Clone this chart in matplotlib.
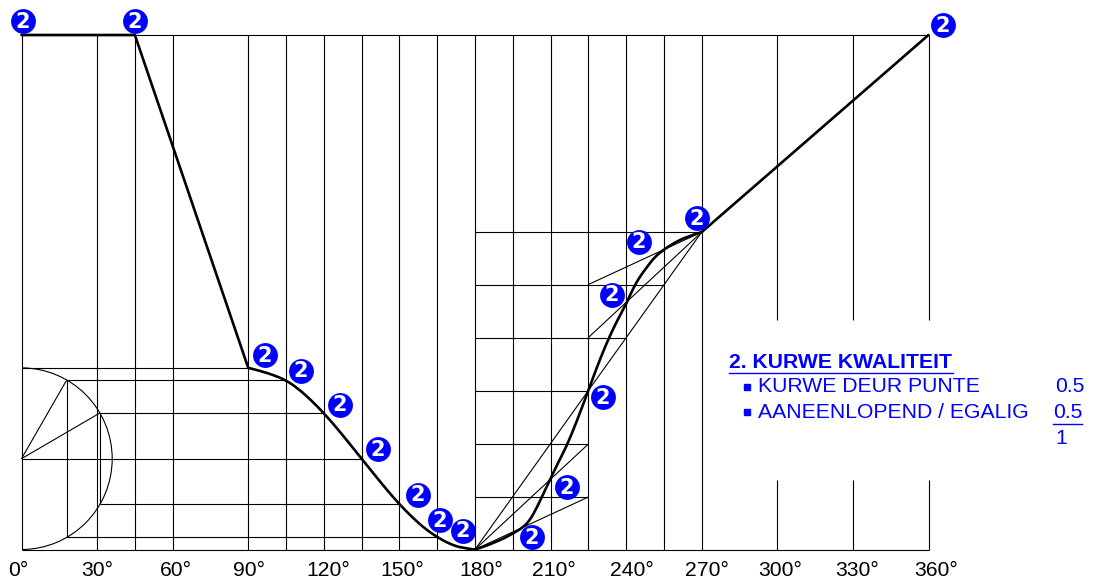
import matplotlib
matplotlib.use("Agg")
import matplotlib.pyplot as plt
from matplotlib.patches import Arc, PathPatch
from matplotlib.path import Path
from matplotlib.transforms import Affine2D

W, H = 1093, 580
BLUE = "#0000ff"

tick_deg = [0, 30, 60, 90, 120, 150, 180, 210, 240, 270, 300, 330, 360]
tick_labels = ["0°", "30°", "60°", "90°", "120°", "150°", "180°", "210°", "240°", "270°", "300°", "330°", "360°"]
label_shift_px = [-3, 0.5, 3.5, 1, 4.5, 3, 6, 3.5, 6, 5, 3, 4, 7.5]
full_grid = [0, 30, 45, 60, 90, 105, 120, 135, 150, 165, 180, 195, 210, 225, 240, 255, 270]
cut_grid = [300, 330, 360]
cut_low = 13.5
cut_high = 44.6

# harmonic drop, 90 to 180
drop_deg = [90, 95, 100, 105, 110, 115, 120, 125, 130, 135, 140, 145, 150, 155, 160, 165, 170, 175, 180]
drop_lift = [35.3, 34.7, 33.9, 32.9, 31.2, 29.0, 26.5, 23.7, 20.7, 17.65, 14.6, 11.6, 8.8, 6.3, 4.1, 2.4, 1.06, 0.27, 0]

# rise, 180 to 270
rise_deg = [180, 183.9, 187.3, 191.2, 195, 199.1, 201.8, 204.4, 207.1, 210, 213, 216.3, 220.3, 225,
            228.2, 232.2, 236.2, 240, 242.8, 245.4, 248.1, 251.4, 255, 258.7, 264, 270]
rise_lift = [0, 0.6, 1.3, 2.1, 3.1, 4.3, 5.7, 8.0, 10.8, 13.8, 16.9, 20, 24.8, 30.9,
             35.2, 40.1, 44.3, 47.7, 50.8, 53, 54.8, 56.9, 58.3, 59.5, 60.8, 61.7]

dwell_deg = [0, 45, 90]
dwell_lift = [100, 100, 35.3]
end_deg = [270, 360]
end_lift = [61.7, 100]

# harmonic construction: lift level, start and end of each projection line
harm_lift = [35.3, 32.9, 26.5, 17.65, 8.8, 2.4]
harm_start = [0, 17.9, 31, 0, 31, 17.9]
harm_end = [90, 105, 120, 135, 150, 165]

# rise construction
rise_levels = [10.2, 20.5, 30.9, 41.2, 51.5, 61.7]
rise_ends = [225, 225, 225, 240, 255, 270]

badge_deg = [0.6, 45.05, 365.8, 96.6, 110.9, 126.4, 141.5, 157.4, 166.1, 175.2,
             202.6, 216.5, 230.8, 234.4, 245.1, 268.1]
badge_lift = [102.7, 102.7, 101.9, 37.8, 34.7, 28.1, 19.5, 10.6, 5.7, 3.6,
              2.4, 12.1, 29.6, 49.5, 59.8, 64.4]

plt.rcParams["font.family"] = ["Liberation Sans", "DejaVu Sans"]

fig = plt.figure(figsize=(W / 100, H / 100), dpi=100)
ax = fig.add_axes([21.5 / W, 1 - 549.5 / H, 907 / W, 514.5 / H])
ax.set_xlim(0, 360)
ax.set_ylim(0, 100)
for side in ["top", "right", "left", "bottom"]:
    ax.spines[side].set_visible(False)
ax.set_yticks([])
ax.set_xticks(tick_deg)
ax.set_xticklabels(tick_labels, fontsize=15.2, color="black")
ax.tick_params(axis="x", length=0, pad=8)
for label, dx in zip(ax.get_xticklabels(), label_shift_px):
    label.set_transform(label.get_transform() + Affine2D().translate(dx, 0))

thin = dict(color="black", lw=0.8, solid_capstyle="butt", clip_on=False)
ax.plot([0, 360], [0, 0], **thin)
ax.plot([0, 360], [100, 100], **thin)
for d in full_grid:
    ax.plot([d, d], [0, 100], **thin)
for d in cut_grid:
    ax.plot([d, d], [0, cut_low], **thin)
    ax.plot([d, d], [cut_high, 100], **thin)

# half circle with its projections
ax.add_patch(Arc((0, 17.65), 2 * 36, 2 * 17.65, theta1=-90, theta2=90, color="black", lw=0.8))
for lift, start, end in zip(harm_lift, harm_start, harm_end):
    ax.plot([start, end], [lift, lift], **thin)
ax.plot([0, 17.9], [17.65, 32.9], **thin)
ax.plot([0, 31], [17.65, 26.5], **thin)
ax.plot([17.9, 17.9], [2.4, 32.9], **thin)
ax.plot([31, 31], [8.8, 26.5], **thin)

# rise construction
for level, end in zip(rise_levels, rise_ends):
    ax.plot([180, end], [level, level], **thin)
for level in rise_levels[:3]:
    ax.plot([180, 225], [0, level], **thin)
for level in rise_levels[2:5]:
    ax.plot([225, 270], [level, 61.7], **thin)

# cam curve: straight parts as lines, the two curved parts as bezier paths
def smooth_path(xs, ys):
    pts = list(zip(xs, ys))
    verts = [pts[0]]
    codes = [Path.MOVETO]
    for i in range(1, len(pts) - 1):
        end = pts[-1] if i == len(pts) - 2 else ((pts[i][0] + pts[i + 1][0]) / 2, (pts[i][1] + pts[i + 1][1]) / 2)
        verts += [pts[i], end]
        codes += [Path.CURVE3, Path.CURVE3]
    return Path(verts, codes)

thick = dict(color="black", lw=1.9, solid_joinstyle="round", solid_capstyle="round", clip_on=False)
ax.plot(dwell_deg, dwell_lift, **thick)
ax.plot(end_deg, end_lift, **thick)
for xs, ys in [(drop_deg, drop_lift), (rise_deg, rise_lift)]:
    ax.add_patch(PathPatch(smooth_path(xs, ys), fc="none", ec="black", lw=1.9, capstyle="round", clip_on=False))

# score badges
ax.scatter(badge_deg, badge_lift, s=320, color=BLUE, linewidths=0, zorder=5, clip_on=False)
for d, l in zip(badge_deg, badge_lift):
    ax.text(d, l - 0.1, "2", color="white", fontsize=15, fontweight="bold", family="DejaVu Sans",
            ha="center", va="center", zorder=6, clip_on=False)

# score block
def px_text(x, y, s, **kw):
    fig.text(x / W, 1 - y / H, s, color=BLUE, va="center", **kw)

px_text(729, 363, "2. KURWE KWALITEIT", fontsize=15.2, fontweight="bold")
px_text(758, 387, "KURWE DEUR PUNTE", fontsize=15.2)
px_text(758, 413, "AANEENLOPEND / EGALIG", fontsize=15.2)
px_text(1085, 387, "0.5", fontsize=15.2, ha="right")
px_text(1083, 413, "0.5", fontsize=15.2, ha="right")
px_text(1061, 438, "1", fontsize=15.2, ha="center")
fig.add_artist(plt.Line2D([729 / W, 953 / W], [1 - 373 / H, 1 - 373 / H], color=BLUE, lw=1))
fig.add_artist(plt.Line2D([1053 / W, 1082 / W], [1 - 424 / H, 1 - 424 / H], color=BLUE, lw=1))
for y in [387, 412]:
    fig.add_artist(plt.Line2D([747 / W], [1 - y / H], marker="s", ms=4, color=BLUE, lw=0))

fig.savefig("out.png", dpi=100)
